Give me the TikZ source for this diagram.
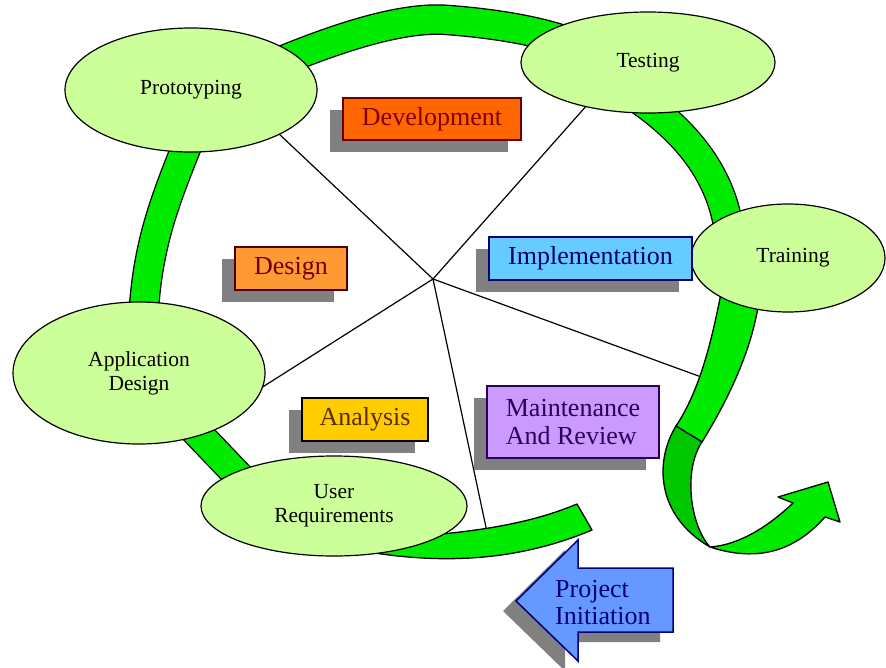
\documentclass[tikz,border=0pt]{standalone}
\usepackage{fontspec}
\setmainfont{Liberation Serif}
\usetikzlibrary{shapes.geometric,shadows}
\definecolor{bandgreen}{RGB}{0,235,0}
\definecolor{darkgreen}{RGB}{0,200,0}
\definecolor{ellfill}{RGB}{204,255,153}
\definecolor{shadowgray}{RGB}{128,128,128}
\definecolor{devfill}{RGB}{255,102,0}
\definecolor{devtext}{RGB}{128,0,0}
\definecolor{desfill}{RGB}{255,153,51}
\definecolor{destext}{RGB}{110,0,0}
\definecolor{impfill}{RGB}{102,204,255}
\definecolor{imptext}{RGB}{0,0,110}
\definecolor{anafill}{RGB}{255,204,0}
\definecolor{anatext}{RGB}{90,45,0}
\definecolor{mntfill}{RGB}{204,153,255}
\definecolor{mnttext}{RGB}{40,0,90}
\definecolor{prjfill}{RGB}{102,153,255}
\definecolor{prjtext}{RGB}{0,0,120}
\begin{document}
\begin{tikzpicture}[x=1pt,y=-1pt,
  band/.style={line width=1.3pt, draw=black, double=bandgreen, double distance=28pt},
  bandfill/.style={fill=bandgreen, draw=black, line width=1.3pt, line join=round},
  twistfill/.style={fill=darkgreen, draw=black, line width=1.3pt, line join=round},
  phase/.style={ellipse, draw=black, line width=1.2pt, fill=ellfill, inner sep=0pt, align=center, font=\fontsize{21.5}{24}\selectfont},
  spoke/.style={draw=black, line width=1.2pt},
  box/.style={rectangle, line width=1.5pt, inner sep=0pt, align=left,
    general shadow={fill=shadowgray, shadow xshift=-13pt, shadow yshift=-12pt},
    font=\fontsize{26}{28}\selectfont},
]
\useasboundingbox (0,0) rectangle (886,667);
\fill[white] (0,0) rectangle (886,667);

% spokes
\coordinate (hub) at (433,279);
\coordinate (s1) at (278,133);
\coordinate (s2) at (588,104);
\coordinate (s3) at (704,378);
\coordinate (s4) at (487,532);
\coordinate (s5) at (261,388);
\foreach \e in {s1,s2,s3,s4,s5} \draw[spoke] (hub) -- (\e);

% green band arcs
\draw[band] (260,70) .. controls (330,40) and (400,16) .. (448,20) .. controls (500,24) and (545,32) .. (580,46);
\draw[band] (195,125) .. controls (170,190) and (145,240) .. (143,330);
\draw[band] (640,100) .. controls (690,135) and (725,180) .. (730,240);
\draw[band] (185,420) -- (250,488);
% bottom band with cut end
\filldraw[bandfill] (345,540) .. controls (450,536) and (520,528) .. (577,504) -- (592,530)
  .. controls (530,556) and (460,566) .. (375,553) -- (345,545) -- cycle;
% band below Training, twist and arrow
\filldraw[bandfill] (722,288) .. controls (712,340) and (700,390) .. (676,426) -- (702,442)
  .. controls (728,400) and (755,345) .. (760,292) -- cycle;
\filldraw[twistfill] (676,426) .. controls (655,460) and (655,515) .. (710,547)
  .. controls (690,525) and (683,470) .. (702,442) -- cycle;
\filldraw[bandfill] (710,547) .. controls (740,545) and (770,525) .. (793,503) -- (778,497) -- (828,482)
  -- (840,522) -- (825,517) .. controls (800,545) and (765,565) .. (710,547) -- cycle;

% phase ellipses
\node[phase, minimum width=252pt, minimum height=124pt] (proto) at (191,90) {Prototyping};
\node[phase, minimum width=254pt, minimum height=101pt] (test) at (648,62.5) {Testing};
\node[phase, minimum width=194pt, minimum height=108pt] (train) at (788,258) {\hspace*{10pt}Training};
\node[phase, minimum width=252pt, minimum height=142pt] (appd) at (139,373) {Application\\Design};
\node[phase, minimum width=266pt, minimum height=100pt] (ureq) at (334,506) {User\\Requirements};

% stage boxes
\node[box, fill=devfill, draw=devtext!80!black, text=devtext, minimum width=178pt, minimum height=42pt] (dev) at (432,119) {Development};
\node[box, fill=desfill, draw=destext!70!black, text=destext, minimum width=112pt, minimum height=43pt] (des) at (291,268.5) {Design};
\node[box, fill=impfill, draw=imptext, text=imptext, minimum width=203pt, minimum height=43pt] (imp) at (590.5,258.5) {Implementation};
\node[box, fill=anafill, draw=black, text=anatext, minimum width=126pt, minimum height=43pt] (ana) at (365,419.5) {Analysis};
\node[box, fill=mntfill, draw=mnttext, text=mnttext, minimum width=172pt, minimum height=72pt] (mnt) at (573,422) {Maintenance\\And Review};

% project initiation arrow
\fill[shadowgray, shift={(-13,10)}] (516,601) -- (578,540) -- (578,568) -- (673,568) -- (673,632) -- (578,632) -- (578,661) -- cycle;
\filldraw[fill=prjfill, draw=prjtext, line width=1.5pt, line join=miter] (516,601) -- (578,540) -- (578,568) -- (673,568) -- (673,632) -- (578,632) -- (578,661) -- cycle;
\node[anchor=west, align=left, text=prjtext, inner sep=0pt, font=\fontsize{26}{27}\selectfont] (prj) at (555,603) {Project\\Initiation};
\end{tikzpicture}
\end{document}
